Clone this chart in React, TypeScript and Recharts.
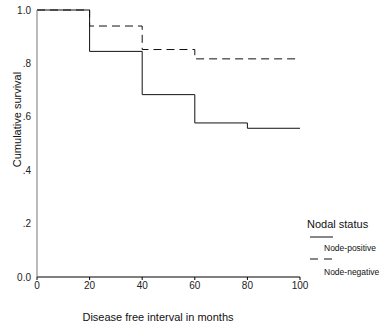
import React from 'react';
import { LineChart, Line, XAxis, YAxis } from 'recharts';

// months
const months = [0, 20, 40, 60, 80, 100];
// cumulative survival by nodal status
const nodePositive = [1.0, 0.845, 0.683, 0.577, 0.557, 0.557];
const nodeNegative = [1.0, 0.94, 0.852, 0.817, 0.817, 0.817];

const xTicks = [0, 20, 40, 60, 80, 100];
const yTicks = [0, 0.2, 0.4, 0.6, 0.8, 1.0];

const data = months.map((m, i) => ({
  month: m,
  positive: nodePositive[i],
  negative: nodeNegative[i],
}));

const fontFamily = 'Arial, "Liberation Sans", sans-serif';

const fmtY = (v: number) => {
  if (v === 0) return '0.0';
  if (v === 1) return '1.0';
  return v.toFixed(1).replace(/^0/, '');
};

const LegendBox = () => (
  <div style={{ position: 'absolute', left: 307, top: 218, fontFamily, color: '#111', width: 80 }}>
    <div style={{ fontSize: 11, lineHeight: '13px' }}>Nodal status</div>
    <svg width={80} height={48} style={{ display: 'block' }}>
      <line x1={3} x2={26} y1={6} y2={6} stroke="#111" strokeWidth={1} />
      <text x={17} y={20} fontSize={8.5} fill="#111">Node-positive</text>
      <line x1={3} x2={26} y1={28} y2={28} stroke="#111" strokeWidth={1} strokeDasharray="8 6" />
      <text x={17} y={44} fontSize={8.5} fill="#111">Node-negative</text>
    </svg>
  </div>
);

export default function App() {
  return (
    <div style={{ position: 'absolute', left: 0, top: 0, width: 384, height: 329, background: '#fff' }}>
      <LineChart
        width={384}
        height={329}
        data={data}
        margin={{ top: 10, right: 84, bottom: 0, left: 7 }}
      >
        <XAxis
          dataKey="month"
          type="number"
          domain={[0, 100]}
          ticks={xTicks}
          tickSize={3}
          tickMargin={2}
          stroke="#000"
          tick={{ fontSize: 10, fill: '#222', fontFamily }}
          height={52}
        />
        <YAxis
          type="number"
          domain={[0, 1]}
          ticks={yTicks}
          tickFormatter={fmtY}
          tickLine={false}
          tickSize={4}
          tickMargin={2}
          width={30}
          stroke="#777"
          tick={{ fontSize: 10, fill: '#222', fontFamily }}
          label={{
            value: 'Cumulative survival',
            angle: -90,
            position: 'insideLeft',
            dx: 5,
            dy: -24,
            style: { textAnchor: 'middle', fontSize: 11, fill: '#111', fontFamily },
          }}
        />
        <Line
          type="stepAfter"
          dataKey="positive"
          name="Node-positive"
          stroke="#111"
          strokeWidth={1}
          dot={false}
          isAnimationActive={false}
        />
        <Line
          type="stepAfter"
          dataKey="negative"
          name="Node-negative"
          stroke="#111"
          strokeWidth={1}
          strokeDasharray="8 5"
          dot={false}
          isAnimationActive={false}
        />
      </LineChart>
      <div
        style={{
          position: 'absolute',
          left: 0,
          width: 316,
          top: 311,
          textAlign: 'center',
          fontFamily,
          fontSize: 11,
          lineHeight: '13px',
          color: '#111',
        }}
      >
        Disease free interval in months
      </div>
      <LegendBox />
    </div>
  );
}
